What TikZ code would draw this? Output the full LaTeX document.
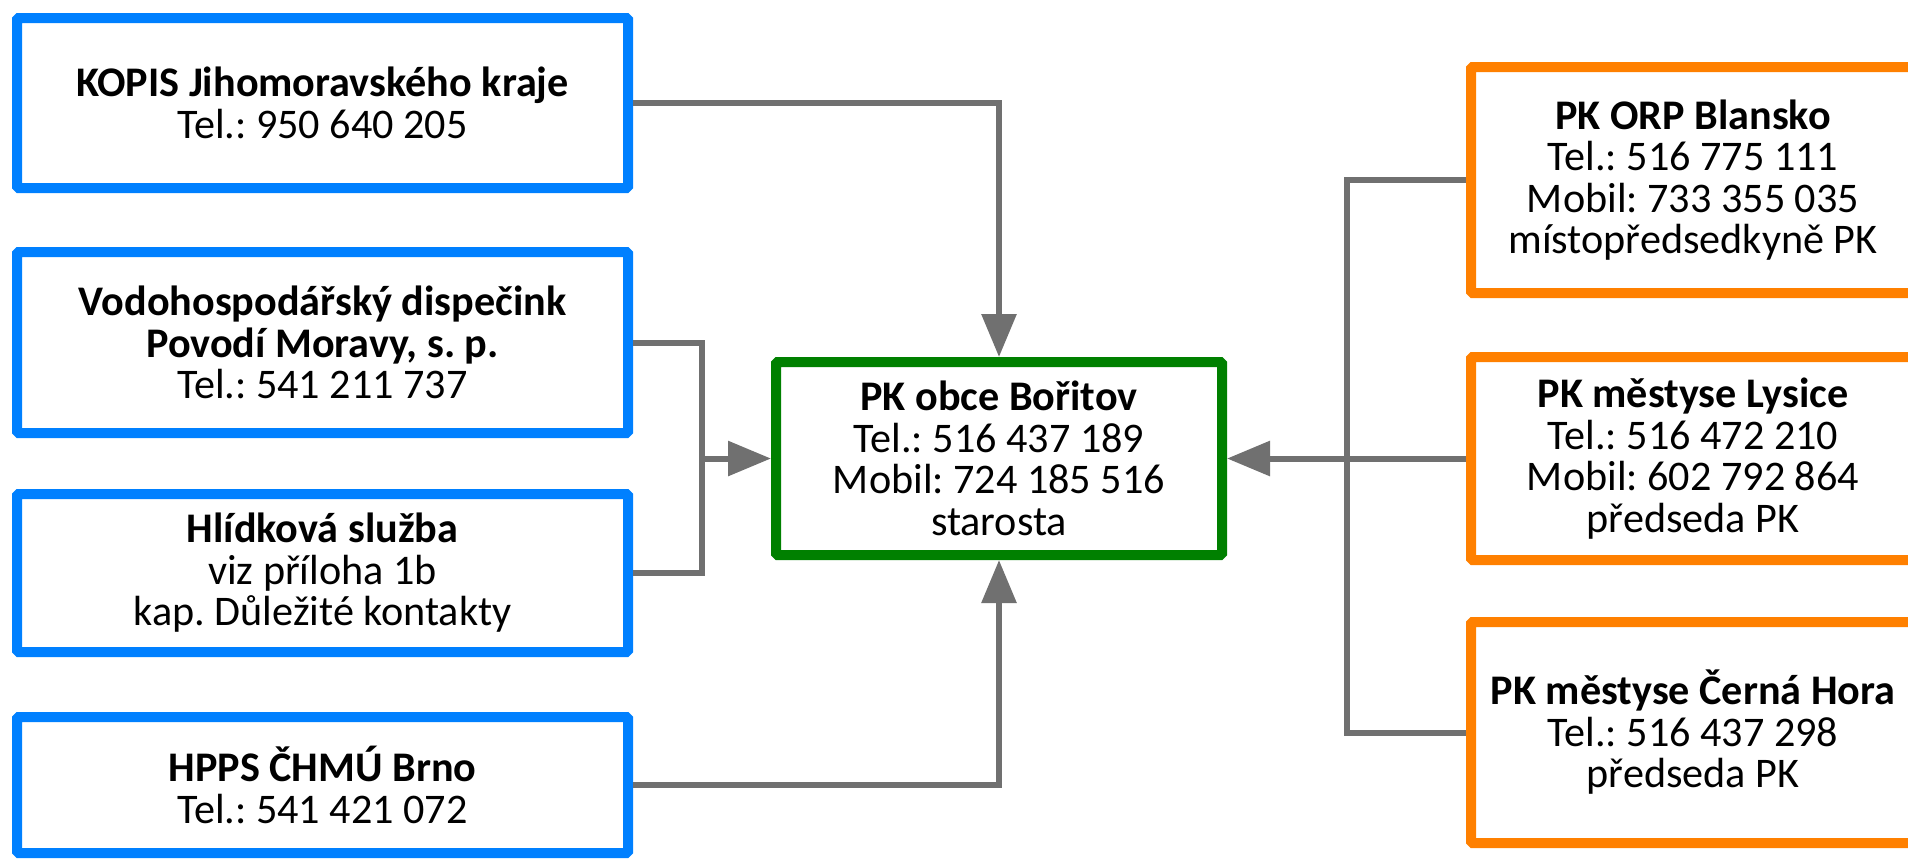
\documentclass[tikz,border=0pt]{standalone}
\usepackage{fontspec}
\setmainfont{Carlito}
\frenchspacing
\usetikzlibrary{arrows.meta}
\definecolor{boxblue}{RGB}{0,128,255}
\definecolor{boxgreen}{RGB}{0,128,0}
\definecolor{boxorange}{RGB}{255,128,0}
\definecolor{linkgray}{RGB}{112,112,112}
\begin{document}
\begin{tikzpicture}[
    font=\fontsize{12}{11.8}\selectfont,
    card/.style={draw,line width=1mm,fill=white,rounded corners=0.5pt,align=center,inner sep=0pt},
    inbox/.style={card,draw=boxblue,minimum width=6.11cm},
    outbox/.style={card,draw=boxorange,minimum width=4.44cm},
    link/.style={draw=linkgray,line width=0.6mm},
    linkarrow/.style={link,-{Triangle[length=4.3mm,width=3.4mm]}}]
      \useasboundingbox (0,0) rectangle (19.08,-8.62);
      \node [inbox,minimum height=1.70cm] (kopis) at (3.225,-1.03) {\textbf{KOPIS Jihomoravského kraje}\\Tel.: 950 640 205};
      \node [inbox,minimum height=1.81cm] (vodo) at (3.225,-3.425) {\textbf{Vodohospodářský dispečink}\\\textbf{Povodí Moravy, s. p.}\\Tel.: 541 211 737};
      \node [inbox,minimum height=1.58cm] (hlid) at (3.225,-5.73) {\textbf{Hlídková služba}\\viz příloha 1b\\kap. Důležité kontakty};
      \node [inbox,minimum height=1.36cm] (hpps) at (3.225,-7.85) {\textbf{HPPS ČHMÚ Brno}\\Tel.: 541 421 072};
      \node [card,draw=boxgreen,minimum width=4.46cm,minimum height=1.93cm] (boritov) at (9.99,-4.585) {\textbf{PK obce Bořitov}\\Tel.: 516 437 189\\Mobil: 724 185 516\\starosta};
      \node [outbox,minimum height=2.26cm] (blansko) at (16.93,-1.80) {\textbf{PK ORP Blansko}\\Tel.: 516 775 111\\Mobil: 733 355 035\\místopředsedkyně PK};
      \node [outbox,minimum height=2.03cm] (lysice) at (16.93,-4.585) {\textbf{PK městyse Lysice}\\Tel.: 516 472 210\\Mobil: 602 792 864\\předseda PK};
      \node [outbox,minimum height=2.21cm] (cerna) at (16.93,-7.325) {\textbf{PK městyse Černá Hora}\\Tel.: 516 437 298\\předseda PK};
      \coordinate (jleft) at (7.02,-4.585);
      \coordinate (jright) at (13.47,-4.585);
      \draw [linkarrow] (kopis.east) -| (boritov.north);
      \draw [linkarrow] (hpps.east) -| (boritov.south);
      \draw [link] (vodo.east) -| (jleft) |- (hlid.east);
      \draw [linkarrow] (jleft) -- (boritov.west);
      \draw [link] (blansko.west) -| (jright) |- (cerna.west);
      \draw [linkarrow] (lysice.west) -- (boritov.east);
\end{tikzpicture}
\end{document}
